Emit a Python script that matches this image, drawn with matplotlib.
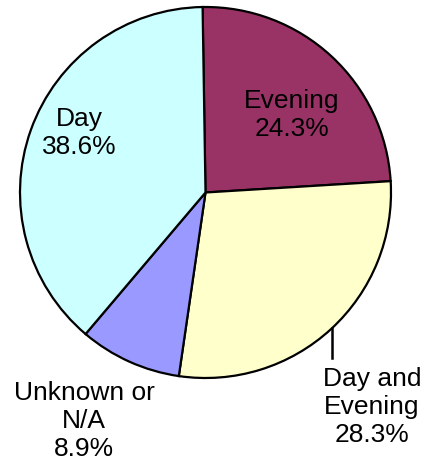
import matplotlib.pyplot as plt

plt.rcParams['font.family'] = ['Liberation Sans', 'DejaVu Sans']

labels = ["Evening", "Day and\nEvening", "Unknown or\nN/A", "Day"]
shares = [24.3, 28.3, 8.9, 38.6]
colors = ["#993366", "#FFFFCC", "#9999FF", "#CCFFFF"]

fig = plt.figure(figsize=(4.24, 4.64), dpi=100)
ax = fig.add_axes([0, 0, 1, 1])

# pie in pixel units (y measured up from bottom)
cx, cy, r = 205.5, 464 - 193.5, 185.5
ax.pie(shares, colors=colors, startangle=90.9, counterclock=False,
       center=(cx, cy), radius=r, frame=True,
       wedgeprops=dict(edgecolor='black', linewidth=1.6))
ax.set_xlim(0, 424)
ax.set_ylim(0, 464)
ax.set_aspect('equal')
ax.axis('off')

fs = 19
def lab(x, y, i):
    ax.text(x, 464 - y, f"{labels[i]}\n{shares[i]}%", ha='center', va='center',
            fontsize=fs, linespacing=1.2)

lab(292, 115, 0)
lab(372, 407, 1)
lab(84, 421, 2)
lab(79, 133, 3)

# leader line for "Day and Evening"
ax.plot([332, 332], [464 - 329, 464 - 359], color='black', linewidth=1.8)

plt.savefig("out.png", dpi=100)
